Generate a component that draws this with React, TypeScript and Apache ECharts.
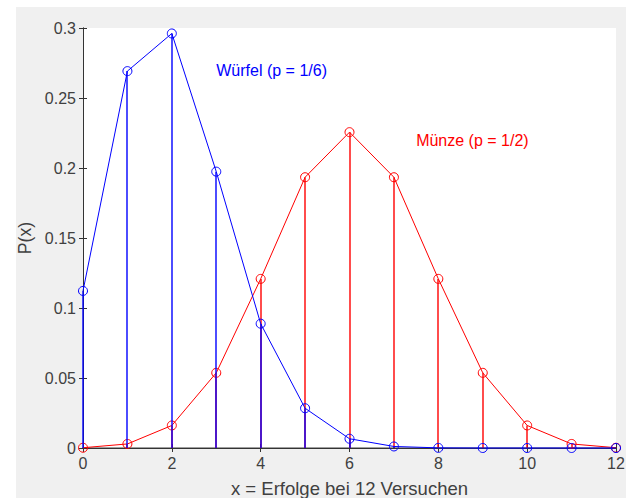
import React, { useEffect, useRef } from "react";
import * as echarts from "echarts";

// Binomial distribution, n = 12 trials
const successes = [0, 1, 2, 3, 4, 5, 6, 7, 8, 9, 10, 11, 12];
const dieProbs = [0.1122, 0.2692, 0.2961, 0.1974, 0.0888, 0.0284, 0.0066, 0.0011, 0.0001, 0, 0, 0, 0];
const coinProbs = [0.0002, 0.0029, 0.0161, 0.0537, 0.1208, 0.1934, 0.2256, 0.1934, 0.1208, 0.0537, 0.0161, 0.0029, 0.0002];

const dieLabel = { text: "Würfel (p = 1/6)", x: 3, y: 0.27 };
const coinLabel = { text: "Münze (p = 1/2)", x: 7.5, y: 0.22 };

const BLUE = "#0000ff";
const RED = "#ff0000";
const AXIS = "#333333";
const TEXT = "#404040";
const FONT = "Arial, 'Liberation Sans', Helvetica, sans-serif";

function pairs(values: number[]) {
  return successes.map((k, i) => [k, values[i]]);
}

// Vertical stems from the baseline to each value
function stemSeries(values: number[], color: string, z: number) {
  return {
    type: "custom",
    z,
    clip: false,
    data: pairs(values),
    renderItem: (_params: any, api: any) => {
      const x = api.value(0);
      const y = api.value(1);
      const p0 = api.coord([x, 0]);
      const p1 = api.coord([x, y]);
      const px = Math.round(p0[0]);
      return {
        type: "line",
        shape: { x1: px, y1: p0[1], x2: px, y2: p1[1] },
        style: { stroke: color, lineWidth: 1.4 },
      };
    },
  };
}

function lineSeries(values: number[], color: string, z: number) {
  return {
    type: "line",
    z,
    clip: false,
    data: pairs(values),
    symbol: "circle",
    symbolSize: 9,
    itemStyle: { color: "transparent", borderColor: color, borderWidth: 1 },
    lineStyle: { color, width: 1 },
  };
}

function labelSeries(label: { text: string; x: number; y: number }, color: string) {
  return {
    type: "custom",
    z: 10,
    clip: false,
    data: [[label.x, label.y]],
    renderItem: (_params: any, api: any) => {
      const p = api.coord([api.value(0), api.value(1)]);
      return {
        type: "text",
        x: p[0],
        y: p[1],
        style: {
          text: label.text,
          fill: color,
          font: `16px ${FONT}`,
          textAlign: "left",
          textVerticalAlign: "middle",
        },
      };
    },
  };
}

export default function App() {
  const ref = useRef<HTMLDivElement>(null);

  useEffect(() => {
    if (!ref.current) return;
    const chart = echarts.init(ref.current, undefined, { renderer: "svg" });
    const tickStyle = { show: true, inside: true, length: 4, lineStyle: { color: AXIS, width: 1 } };
    chart.setOption({
      animation: false,
      grid: {
        left: 83,
        right: 10,
        top: 28,
        bottom: 50,
        show: true,
        backgroundColor: "#ffffff",
        borderWidth: 0,
        containLabel: false,
        outerBoundsMode: "none",
      },
      xAxis: [
        {
          type: "value",
          min: 0,
          max: 12,
          interval: 2,
          position: "bottom",
          name: "x = Erfolge bei 12 Versuchen",
          nameLocation: "middle",
          nameGap: 31,
          nameTextStyle: { color: TEXT, fontSize: 18.5, fontFamily: FONT },
          axisLine: { show: true, lineStyle: { color: "#808080", width: 1.5 } },
          axisTick: tickStyle,
          axisLabel: { color: TEXT, fontSize: 16, fontFamily: FONT, margin: 7 },
          splitLine: { show: false },
        },
        {
          type: "value",
          min: 0,
          max: 12,
          interval: 2,
          position: "top",
          axisLine: { show: true, lineStyle: { color: AXIS, width: 1 } },
          axisTick: tickStyle,
          axisLabel: { show: false },
          splitLine: { show: false },
        },
      ],
      yAxis: [
        {
          type: "value",
          min: 0,
          max: 0.3,
          interval: 0.05,
          position: "left",
          name: "P(x)",
          nameLocation: "middle",
          nameGap: 42,
          nameTextStyle: { color: TEXT, fontSize: 17.6, fontFamily: FONT },
          axisLine: { show: true, lineStyle: { color: AXIS, width: 1 } },
          axisTick: tickStyle,
          axisLabel: { color: TEXT, fontSize: 16, fontFamily: FONT, margin: 7 },
          splitLine: { show: false },
        },
        {
          type: "value",
          min: 0,
          max: 0.3,
          interval: 0.05,
          position: "right",
          axisLine: { show: true, lineStyle: { color: AXIS, width: 1 } },
          axisTick: tickStyle,
          axisLabel: { show: false },
          splitLine: { show: false },
        },
      ],
      series: [
        stemSeries(coinProbs, RED, 2),
        lineSeries(coinProbs, RED, 3),
        stemSeries(dieProbs, BLUE, 4),
        lineSeries(dieProbs, BLUE, 5),
        labelSeries(dieLabel, BLUE),
        labelSeries(coinLabel, RED),
      ],
    });
    return () => chart.dispose();
  }, []);

  return (
    <div style={{ position: "fixed", left: 0, top: 0, width: 626, height: 498, background: "#ffffff" }}>
      <div style={{ position: "absolute", left: 16, top: 7, width: 610, height: 491, background: "#f0f0f0" }} />
      <div ref={ref} style={{ position: "absolute", left: 0, top: 0, width: 626, height: 498 }} />
    </div>
  );
}
